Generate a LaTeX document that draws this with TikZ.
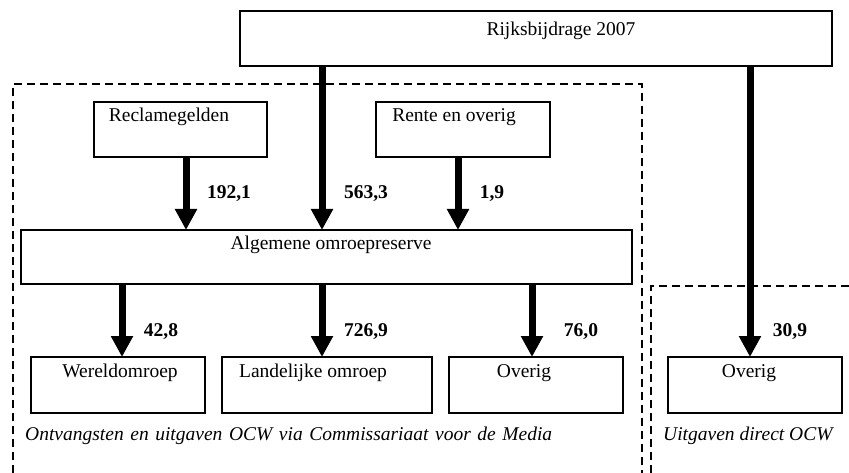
\documentclass[tikz,border=0pt]{standalone}
\usepackage{fontspec}
\setmainfont{Liberation Serif}
\usetikzlibrary{arrows.meta}
\begin{document}
\begin{tikzpicture}[x=1pt,y=-1pt,
  box/.style={draw=black,line width=1.6pt,inner sep=0pt,outer sep=0pt,minimum height=55pt},
  flow/.style={line width=7pt,-{Triangle[width=21pt,length=21pt]}},
  dashbox/.style={line width=1.5pt,dash pattern=on 8pt off 5pt},
  lbl/.style={anchor=base,inner sep=0pt,font=\fontsize{19.5}{23}\selectfont},
  num/.style={anchor=base,inner sep=0pt,font=\fontsize{19.5}{23}\selectfont\bfseries},
  note/.style={anchor=base west,inner sep=0pt,font=\fontsize{19.5}{23}\selectfont\itshape}]
\useasboundingbox (0,0) rectangle (849,473);
% dashed regions
\draw[dashbox] (13,473) -- (13,84) -- (642,84) -- (642,473);
\draw[dashbox] (651,473) -- (651,286) -- (849,286);
% boxes
\node[box,minimum width=592pt] (rijks) at (536,38.5) {};
\node[box,minimum width=173pt] (reclame) at (180.5,129.5) {};
\node[box,minimum width=174pt] (rente) at (463,129.5) {};
\node[box,minimum width=611pt,minimum height=54pt] (alg) at (326.5,257) {};
\node[box,minimum width=174pt,minimum height=56pt] (wereld) at (118,385) {};
\node[box,minimum width=210pt,minimum height=56pt] (landelijk) at (327,385) {};
\node[box,minimum width=174pt,minimum height=56pt] (overig1) at (536,385) {};
\node[box,minimum width=174pt,minimum height=56pt] (overig2) at (755,385) {};
% box texts
\node[lbl] (trijks) at (561,36) {Rijksbijdrage 2007};
\node[lbl] (treclame) at (169,122) {Reclamegelden};
\node[lbl] (trente) at (454,122) {Rente en overig};
\node[lbl] (talg) at (331,250) {Algemene omroepreserve};
\node[lbl] (twereld) at (120,377) {Wereldomroep};
\node[lbl] (tlandelijk) at (313,377) {Landelijke omroep};
\node[lbl] (toverig1) at (524,377) {Overig};
\node[lbl] (toverig2) at (749,377) {Overig};
% arrows
\draw[flow] ([xshift=5.5pt]reclame.south) -- ([xshift=5.5pt]reclame.south |- alg.north);
\draw[flow] ([xshift=-214pt]rijks.south) -- ([xshift=-214pt]rijks.south |- alg.north);
\draw[flow] ([xshift=-5pt]rente.south) -- ([xshift=-5pt]rente.south |- alg.north);
\draw[flow] ([xshift=-204.5pt]alg.south) -- ([xshift=-204.5pt]alg.south |- wereld.north);
\draw[flow] ([xshift=-4.5pt]alg.south) -- ([xshift=-4.5pt]alg.south |- landelijk.north);
\draw[flow] ([xshift=205.5pt]alg.south) -- ([xshift=205.5pt]alg.south |- overig1.north);
\draw[flow] ([xshift=214pt]rijks.south) -- ([xshift=214pt]rijks.south |- overig2.north);
% amounts
\node[num] (n1) at (229,199) {192,1};
\node[num] (n2) at (366,199) {563,3};
\node[num] (n3) at (492,199) {1,9};
\node[num] (n4) at (161,336) {42,8};
\node[num] (n5) at (366,336) {726,9};
\node[num] (n6) at (581,336) {76,0};
\node[num] (n7) at (790,336) {30,9};
% region captions
\node[note] (cap1) at (25,440) {\makebox[527pt][s]{Ontvangsten en uitgaven OCW via Commissariaat voor de Media}};
\node[note] (cap2) at (663,440) {Uitgaven direct OCW};
\end{tikzpicture}
\end{document}
